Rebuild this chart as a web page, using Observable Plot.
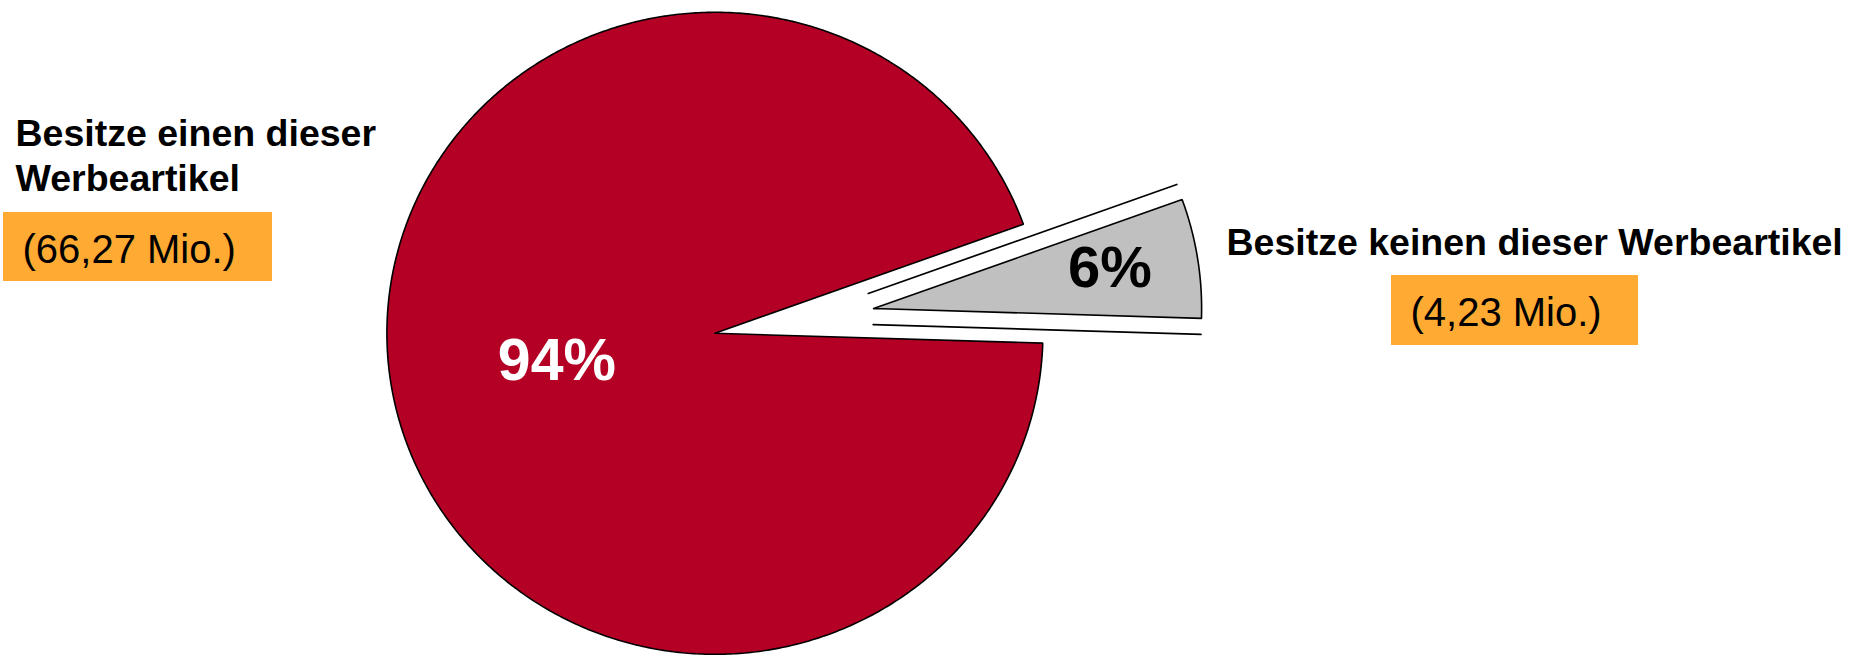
<!DOCTYPE html>
<html><head><meta charset="utf-8">
<script src="https://cdn.jsdelivr.net/npm/d3@7"></script>
<script src="https://cdn.jsdelivr.net/npm/@observablehq/plot@0.6"></script>
<style>html,body{margin:0;padding:0;background:#fff;} svg{display:block}</style>
</head><body><div id="chart"></div>
<script>
// ---- data ----
const categories = ["Besitze einen dieser Werbeartikel", "Besitze keinen dieser Werbeartikel"];
const valuesMio = [66.27, 4.23];
const percentLabels = ["94%", "6%"];
const amountLabels = ["(66,27 Mio.)", "(4,23 Mio.)"];
const sliceColors = ["#B30024", "#C0C0C0"];

// ---- layout ----
const W = 1870, H = 656;
const cx = 714.4, cy = 332.8, rx = 328, ry = 321;
const startDeg = 91.75;
const explode = [0, 0.49];
const gapOffset = 16;
const font = "Liberation Sans, Arial, Helvetica, sans-serif";

const a0 = startDeg * Math.PI / 180;
const arcs = d3.pie().sort(null).startAngle(a0).endAngle(a0 + 2 * Math.PI)(valuesMio);
const toPx = (ux, uy) => [cx + rx * ux, cy - ry * uy];

const slices = arcs.map((a, i) => {
  const mid = (a.startAngle + a.endAngle) / 2;
  const ox = explode[i] * Math.sin(mid), oy = explode[i] * Math.cos(mid);
  const pts = [[ox, oy]];
  const n = Math.max(10, Math.ceil((a.endAngle - a.startAngle) / (Math.PI / 360)));
  for (let k = 0; k <= n; k++) {
    const t = a.startAngle + (a.endAngle - a.startAngle) * k / n;
    pts.push([ox + Math.sin(t), oy + Math.cos(t)]);
  }
  pts.push([ox, oy]);
  const px = pts.map(([ux, uy]) => { const [x, y] = toPx(ux, uy); return {x, y}; });
  const V = toPx(ox, oy);
  const Ps = toPx(ox + Math.sin(a.startAngle), oy + Math.cos(a.startAngle));
  const Pe = toPx(ox + Math.sin(a.endAngle), oy + Math.cos(a.endAngle));
  const Pm = toPx(ox + Math.sin(mid), oy + Math.cos(mid));
  return {i, pts: px, V, Ps, Pe, Pm};
});

// separator lines along the exploded slice's straight edges
const g = slices[1];
const gapLines = [];
[g.Ps, g.Pe].forEach((P, k) => {
  const dx = P[0] - g.V[0], dy = P[1] - g.V[1], L = Math.hypot(dx, dy);
  let nx = dy / L, ny = -dx / L;
  const mx = g.Pm[0] - g.V[0], my = g.Pm[1] - g.V[1];
  if (nx * mx + ny * my > 0) { nx = -nx; ny = -ny; }
  gapLines.push({id: k, x: g.V[0] + nx * gapOffset, y: g.V[1] + ny * gapOffset});
  gapLines.push({id: k, x: P[0] + nx * gapOffset, y: P[1] + ny * gapOffset});
});

const boxes = [
  {x1: 3, x2: 272, y1: 212, y2: 281},
  {x1: 1391, x2: 1638, y1: 275, y2: 345}
];

const plot = Plot.plot({
  width: W, height: H, margin: 0,
  x: {domain: [0, W], range: [0, W], axis: null},
  y: {domain: [0, H], range: [0, H], axis: null},
  style: {fontFamily: font, background: "white", overflow: "visible"},
  marks: [
    ...slices.map(s => Plot.line(s.pts, {x: "x", y: "y", fill: sliceColors[s.i], stroke: "black", strokeWidth: 1.6, strokeLinejoin: "miter"})),
    Plot.line(gapLines, {x: "x", y: "y", z: "id", stroke: "black", strokeWidth: 1.7}),
    Plot.rect(boxes, {x1: "x1", x2: "x2", y1: "y1", y2: "y2", fill: "#FEAA33"}),
    // percent labels
    Plot.text([percentLabels[0]], {x: cx - 158, y: cy + 47, text: d => d, fontSize: 59, fontWeight: "bold", fill: "white", textAnchor: "middle", lineAnchor: "bottom"}),
    Plot.text([percentLabels[1]], {x: cx + 395, y: cy - 46, text: d => d, fontSize: 58, fontWeight: "bold", fill: "black", textAnchor: "middle", lineAnchor: "bottom"}),
    // left category label (two lines)
    Plot.text(["Besitze einen dieser", "Werbeartikel"], {x: 15, y: (d, i) => [145, 190][i], text: d => d, fontSize: 37.5, fontWeight: "bold", fill: "black", textAnchor: "start", lineAnchor: "bottom"}),
    Plot.text([amountLabels[0]], {x: 22, y: 262, text: d => d, fontSize: 40, fill: "black", textAnchor: "start", lineAnchor: "bottom"}),
    // right category label
    Plot.text([categories[1]], {x: 1226, y: 254, text: d => d, fontSize: 37.5, fontWeight: "bold", fill: "black", textAnchor: "start", lineAnchor: "bottom"}),
    Plot.text([amountLabels[1]], {x: 1410, y: 325, text: d => d, fontSize: 40, fill: "black", textAnchor: "start", lineAnchor: "bottom"})
  ]
});
document.getElementById("chart").appendChild(plot);
</script>
</body></html>
